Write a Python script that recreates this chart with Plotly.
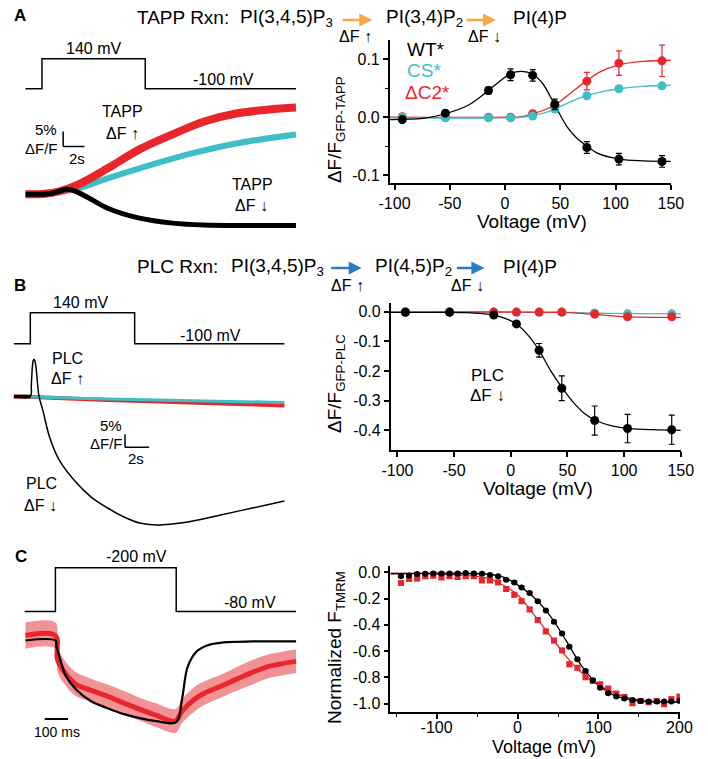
import plotly.graph_objects as go

W, H = 708, 759
FONT = "Liberation Sans, Arial, Helvetica, sans-serif"
BLACK = "#000000"
CYAN = "#3DBFC5"
RED = "#E8262B"
ORANGE = "#F7A83F"
BLUE = "#2B7BC0"

# ---------------- data ----------------
# Panel A example traces: time (s), dF/F (%)
a_wt_t = [0, 2.27, 3.18, 3.82, 4.55, 5.91, 7.73, 10.73, 13.82, 16.82, 21.36, 25.45]
a_wt_f = [0, 0.17, 1.0, 1.67, 1.17, -1.17, -4.67, -8.0, -9.67, -10.33, -10.5, -10.5]
a_cs_t = [0, 1.82, 3.18, 5.0, 7.73, 10.73, 15.27, 19.82, 25.45]
a_cs_f = [0, 0, 0.67, 2.0, 5.33, 8.67, 13.33, 17.0, 20.0]
a_dc2_t = [0, 1.82, 3.18, 5.0, 7.73, 10.73, 13.82, 16.82, 19.82, 22.91, 25.45]
a_dc2_f = [0, 0.17, 1.0, 3.33, 8.67, 15.0, 20.0, 24.33, 27.0, 28.33, 29.0]
a_prot_t = [0, 1.55, 1.55, 11.27, 11.27, 25.45]
a_prot_v = [-100, -100, 140, 140, -100, -100]

# Panel A voltage dependence (mV, dF/F)
volt_ab = [-93, -54, -15, 5, 25, 45, 74, 103, 142]
a_wt = [-0.004, 0.007, 0.046, 0.073, 0.072, 0.022, -0.052, -0.072, -0.076]
a_wt_err = [0.003, 0.003, 0.006, 0.010, 0.010, 0.009, 0.010, 0.010, 0.010]
a_cs = [0.0, -0.001, -0.001, -0.001, 0.002, 0.014, 0.037, 0.049, 0.054]
a_cs_err = [0.002, 0.002, 0.002, 0.002, 0.002, 0.003, 0.004, 0.005, 0.005]
a_dc2 = [0.001, 0.0, 0.0, 0.0, 0.006, 0.020, 0.062, 0.093, 0.097]
a_dc2_err = [0.003, 0.002, 0.002, 0.002, 0.002, 0.004, 0.015, 0.021, 0.027]
# fitted curves
a_wt_fit_v = [-104, -74, -54, -33, -15, -4, 5, 15, 25, 34, 45, 56, 65, 73, 84, 104, 125, 150]
a_wt_fit = [-0.004, -0.002, 0.006, 0.021, 0.046, 0.063, 0.075, 0.079, 0.074, 0.058, 0.021, -0.016, -0.036, -0.048, -0.062, -0.072, -0.075, -0.076]
a_cs_fit_v = [-104, 0, 15, 25, 35, 45, 55, 65, 74, 90, 103, 125, 150]
a_cs_fit = [-0.001, -0.001, 0.0, 0.003, 0.007, 0.014, 0.023, 0.031, 0.037, 0.045, 0.049, 0.053, 0.055]
a_dc2_fit_v = [-104, 0, 15, 25, 35, 45, 55, 65, 74, 85, 103, 125, 150]
a_dc2_fit = [0.0, 0.0, 0.001, 0.006, 0.012, 0.021, 0.035, 0.050, 0.063, 0.077, 0.090, 0.096, 0.098]

# Panel B example traces: time (s), dF/F (%)
b_wt_t = [0, 1.36, 1.44, 1.52, 1.6, 1.68, 1.8, 1.92, 2.08, 2.4, 2.96, 3.76, 5.12, 6.4, 7.76, 9.12, 10.4, 11.76, 13.12, 14.4, 17.12, 19.76, 22.4]
b_wt_f = [0, 0, 4.23, 10.77, 13.85, 14.23, 12.31, 6.92, 0, -5.38, -15.77, -24.62, -33.08, -38.85, -43.08, -46.54, -48.85, -49.62, -49.23, -48.46, -45.77, -43.08, -40.38]
b_wt_pre_t = [0, 1.36]
b_wt_pre_f = [0, 0]
b_cs_t = [0, 1.6, 7.76, 15.76, 22.4]
b_cs_f = [0, -0.19, -0.96, -1.73, -2.31]
b_dc2_t = [0, 1.6, 7.76, 15.76, 22.4]
b_dc2_f = [0, -0.19, -1.35, -2.5, -3.46]
b_prot_t = [0, 1.36, 1.36, 10.0, 10.0, 22.4]
b_prot_v = [-100, -100, 140, 140, -100, -100]

# Panel B voltage dependence
b_wt = [-0.002, -0.002, -0.011, -0.041, -0.130, -0.258, -0.367, -0.394, -0.398]
b_wt_err = [0.003, 0.003, 0.004, 0.005, 0.023, 0.042, 0.049, 0.048, 0.049]
b_cs = [0.0, 0.0, -0.001, -0.001, -0.002, -0.002, -0.004, -0.007, -0.007]
b_cs_err = [0.003] * 9
b_dc2 = [-0.001, -0.001, -0.001, -0.001, -0.001, -0.001, -0.008, -0.017, -0.017]
b_dc2_err = [0.003] * 9
b_wt_fit_v = [-106, -60, -40, -25, -15, -5, 5, 15, 25, 35, 45, 55, 65, 75, 90, 105, 125, 150]
b_wt_fit = [-0.002, -0.002, -0.003, -0.006, -0.011, -0.022, -0.041, -0.078, -0.130, -0.198, -0.255, -0.305, -0.343, -0.367, -0.386, -0.394, -0.398, -0.400]
b_cs_fit_v = [-106, 40, 60, 80, 103, 150]
b_cs_fit = [-0.001, -0.001, -0.003, -0.005, -0.006, -0.007]
b_dc2_fit_v = [-106, 40, 55, 74, 90, 103, 150]
b_dc2_fit = [-0.001, -0.002, -0.004, -0.009, -0.014, -0.017, -0.019]

# Panel C example traces: time (ms), normalized F
c_wt_t = [0, 129, 133, 146, 175, 217, 283, 354, 425, 492, 563, 650, 675, 700, 738, 783, 854, 979, 1167]
c_wt_f = [0, 0, -0.061, -0.195, -0.439, -0.598, -0.744, -0.829, -0.902, -0.951, -0.988, -1.0, -0.72, -0.317, -0.134, -0.061, -0.024, -0.012, -0.012]
c_mut_t = [0, 129, 138, 175, 217, 283, 354, 425, 492, 563, 646, 675, 729, 771, 842, 908, 979, 1050, 1167]
c_mut_f = [0.06, 0.06, -0.232, -0.415, -0.537, -0.61, -0.683, -0.768, -0.841, -0.915, -0.988, -0.866, -0.72, -0.646, -0.561, -0.476, -0.39, -0.317, -0.256]
c_mut_hi = [0.22, 0.22, -0.08, -0.27, -0.39, -0.47, -0.54, -0.62, -0.70, -0.77, -0.84, -0.72, -0.57, -0.50, -0.42, -0.33, -0.24, -0.17, -0.11]
c_mut_lo = [-0.10, -0.10, -0.38, -0.56, -0.68, -0.75, -0.83, -0.91, -0.98, -1.06, -1.13, -1.01, -0.87, -0.79, -0.70, -0.62, -0.54, -0.46, -0.40]
c_prot_t = [-4, 129, 129, 650, 650, 1167]
c_prot_v = [-80, -80, -200, -200, -80, -80]

# Panel C voltage dependence (normalized F_TMRM)
volt_c = [-144, -134, -124, -114, -104, -94, -84, -74, -64, -54, -44, -34, -24, -14, -4, 5, 15, 25,
          35, 45, 55, 64, 74, 84, 93, 102, 112, 122, 132, 142, 152, 162, 172, 181, 190, 200]
c_wt = [-0.030, -0.023, -0.012, -0.010, -0.008, -0.008, -0.008, -0.008, -0.005, -0.008, -0.010, -0.020,
        -0.030, -0.055, -0.076, -0.114, -0.157, -0.220, -0.291, -0.377, -0.466, -0.567, -0.663, -0.752,
        -0.823, -0.879, -0.922, -0.947, -0.962, -0.973, -0.980, -0.985, -0.985, -0.985, -0.985, -0.980]
c_mut = [-0.081, -0.050, -0.047, -0.030, -0.025, -0.038, -0.030, -0.035, -0.030, -0.030, -0.061, -0.061,
         -0.076, -0.127, -0.170, -0.220, -0.282, -0.362, -0.450, -0.520, -0.595, -0.701, -0.727, -0.800,
         -0.828, -0.853, -0.886, -0.924, -0.950, -0.998, -0.980, -0.990, -0.980, -1.005, -0.967, -0.947]
c_wt_err = [0.008] * 36
c_mut_err = [0.015] * 36
c_wt_fit_v = [-157, -50, -20, 0, 20, 40, 60, 80, 100, 120, 140, 160, 200]
c_wt_fit = [-0.010, -0.010, -0.030, -0.095, -0.190, -0.330, -0.520, -0.720, -0.860, -0.940, -0.970, -0.985, -0.990]
c_mut_fit_v = [-157, -100, -60, -40, -20, 0, 20, 40, 60, 80, 100, 120, 140, 160, 200]
c_mut_fit = [-0.005, -0.012, -0.025, -0.040, -0.090, -0.170, -0.320, -0.480, -0.640, -0.770, -0.860, -0.920, -0.960, -0.980, -0.990]


# ---------------- layout helpers (pixel geometry) ----------------
def xdom(x0, x1):
    return [x0 / W, x1 / W]


def ydom(top, bottom):
    return [1 - bottom / H, 1 - top / H]


def lin(p, p0, v0, p1, v1):
    return v0 + (p - p0) * (v1 - v0) / (p1 - p0)


def PX(x):
    return x / W


def PY(y):
    return 1 - y / H


fig = go.Figure()


def line_tr(x, y, color, width, xa, ya, shape="spline"):
    fig.add_trace(go.Scatter(x=x, y=y, mode="lines", xaxis=xa, yaxis=ya,
                             line=dict(color=color, width=width, shape=shape),
                             hoverinfo="skip"))


def pts_tr(x, y, err, color, size, xa, ya, symbol="circle"):
    fig.add_trace(go.Scatter(x=x, y=y, mode="markers", xaxis=xa, yaxis=ya,
                             marker=dict(color=color, size=size, symbol=symbol),
                             error_y=dict(type="data", array=err, color=color,
                                          thickness=1.2, width=3)))


# ---- Panel A traces ----
line_tr(a_prot_t, a_prot_v, BLACK, 1.5, "x", "y2", shape="linear")
line_tr(a_cs_t, a_cs_f, CYAN, 6, "x", "y")
line_tr(a_dc2_t, a_dc2_f, RED, 8, "x", "y")
line_tr(a_wt_t, a_wt_f, BLACK, 5, "x", "y")

# ---- Panel A plot ----
line_tr(a_dc2_fit_v, a_dc2_fit, RED, 1.3, "x2", "y3")
line_tr(a_cs_fit_v, a_cs_fit, CYAN, 1.3, "x2", "y3")
line_tr(a_wt_fit_v, a_wt_fit, BLACK, 1.3, "x2", "y3")
pts_tr(volt_ab, a_dc2, a_dc2_err, RED, 9, "x2", "y3")
pts_tr(volt_ab, a_cs, a_cs_err, CYAN, 9, "x2", "y3")
pts_tr(volt_ab, a_wt, a_wt_err, BLACK, 9, "x2", "y3")

# ---- Panel B traces ----
line_tr(b_prot_t, b_prot_v, BLACK, 1.5, "x3", "y5", shape="linear")
line_tr(b_dc2_t, b_dc2_f, RED, 4, "x3", "y4")
line_tr(b_cs_t, b_cs_f, CYAN, 3, "x3", "y4")
line_tr(b_wt_pre_t, b_wt_pre_f, BLACK, 3.5, "x3", "y4", shape="linear")
line_tr(b_wt_t, b_wt_f, BLACK, 1.5, "x3", "y4")

# ---- Panel B plot ----
line_tr(b_cs_fit_v, b_cs_fit, CYAN, 1.3, "x4", "y6")
line_tr(b_dc2_fit_v, b_dc2_fit, RED, 1.3, "x4", "y6")
line_tr(b_wt_fit_v, b_wt_fit, BLACK, 1.3, "x4", "y6")
pts_tr(volt_ab, b_cs, b_cs_err, CYAN, 9, "x4", "y6")
pts_tr(volt_ab, b_dc2, b_dc2_err, RED, 9, "x4", "y6")
pts_tr(volt_ab, b_wt, b_wt_err, BLACK, 9, "x4", "y6")

# ---- Panel C traces ----
line_tr(c_prot_t, c_prot_v, BLACK, 1.5, "x5", "y8", shape="linear")
fig.add_trace(go.Scatter(x=c_mut_t, y=c_mut_hi, mode="lines", xaxis="x5", yaxis="y7",
                         line=dict(width=0, shape="spline"), hoverinfo="skip"))
fig.add_trace(go.Scatter(x=c_mut_t, y=c_mut_lo, mode="lines", xaxis="x5", yaxis="y7",
                         line=dict(width=0, shape="spline"), fill="tonexty",
                         fillcolor="rgba(232,38,43,0.50)", hoverinfo="skip"))
line_tr(c_mut_t, c_mut_f, RED, 5, "x5", "y7")
line_tr(c_wt_t, c_wt_f, BLACK, 2.2, "x5", "y7")

# ---- Panel C plot ----
line_tr(c_mut_fit_v, c_mut_fit, RED, 1.3, "x6", "y9")
line_tr(c_wt_fit_v, c_wt_fit, BLACK, 1.3, "x6", "y9")
pts_tr(volt_c, c_mut, c_mut_err, RED, 6, "x6", "y9", symbol="square")
pts_tr(volt_c, c_wt, c_wt_err, BLACK, 6, "x6", "y9")


# ---------------- axes ----------------
def hidden(domain, rng, anchor=None):
    d = dict(visible=False, domain=domain, range=rng, fixedrange=True)
    if anchor:
        d["anchor"] = anchor
    return d


def shown(domain, rng, tickvals, ticktext, anchor, minor=None, standoff=0):
    d = dict(domain=domain, range=rng, tickvals=tickvals, ticktext=ticktext,
             anchor=anchor, showline=True, linecolor="black", linewidth=1.5,
             ticks="outside", ticklen=5, tickwidth=1.5, tickcolor="black",
             showgrid=False, zeroline=False, fixedrange=True,
             ticklabelstandoff=standoff,
             tickfont=dict(size=16, color="black", family=FONT))
    if minor:
        d["minor"] = dict(tickvals=minor, ticks="outside", ticklen=3,
                          tickwidth=1.2, tickcolor="black", showgrid=False)
    return d


# Panel A traces: 11 px / s, 3 px / %, 8 mV / px
ax_a_t = hidden(xdom(0, 340), [lin(0, 15, 0, 26, 1), lin(340, 15, 0, 26, 1)], "y")
ay_a_f = hidden(ydom(95, 240), [lin(240, 193, 0, 190, 1), lin(95, 193, 0, 190, 1)], "x")
ay_a_v = hidden(ydom(38, 95), [lin(95, 87, -100, 57, 140), lin(38, 87, -100, 57, 140)], "x")

# Panel A plot
ax_a_p = shown(xdom(392, 683), [lin(392, 397, -100, 683, 150), 150],
               [-100, -50, 0, 50, 100, 150], ["-100", "-50", "0", "50", "100", "150"], "y3")
ay_a_p = shown(ydom(38, 182), [lin(182, 115.7, 0, 57.3, 0.1), lin(38, 115.7, 0, 57.3, 0.1)],
               [-0.1, 0, 0.1], ["-0.1", "0.0", "0.1"], "x2", minor=[-0.05, 0.05])

# Panel B traces: 12.5 px / s, 2.6 px / %
ax_b_t = hidden(xdom(0, 340), [lin(0, 3, 0, 15.5, 1), lin(340, 3, 0, 15.5, 1)], "y4")
ay_b_f = hidden(ydom(350, 545), [lin(545, 396, 0, 393.4, 1), lin(350, 396, 0, 393.4, 1)], "x3")
ay_b_v = hidden(ydom(296, 350), [lin(350, 343, -100, 312, 140), lin(296, 343, -100, 312, 140)], "x3")

# Panel B plot
ax_b_p = shown(xdom(393, 693.3), [lin(393, 400, -100, 693.3, 150), 150],
               [-100, -50, 0, 50, 100, 150], ["-100", "-50", "0", "50", "100", "150"], "y6")
ay_b_p = shown(ydom(302, 450), [lin(450, 311, 0, 430, -0.4), lin(302, 311, 0, 430, -0.4)],
               [-0.4, -0.3, -0.2, -0.1, 0], ["-0.4", "-0.3", "-0.2", "-0.1", "0.0"], "x4")

# Panel C traces: 0.24 px / ms
ax_c_t = hidden(xdom(0, 340), [lin(0, 15, 0, 39, 100), lin(340, 15, 0, 39, 100)], "y7")
ay_c_f = hidden(ydom(615, 745), [lin(745, 641, 0, 723, -1), lin(615, 641, 0, 723, -1)], "x5")
ay_c_v = hidden(ydom(556, 615), [lin(615, 612, -80, 568, -200), lin(556, 612, -80, 568, -200)], "x5")

# Panel C plot
ax_c_p = shown(xdom(392.7, 692.3), [lin(392.7, 524.3, 0, 608.1, 100), lin(692.3, 524.3, 0, 608.1, 100)],
               [-100, 0, 100, 200], ["-100", "0", "100", "200"], "y9", minor=[-150, -50, 50, 150],
               standoff=-5)
ay_c_p = shown(ydom(566, 712.7), [lin(712.7, 572.7, 0, 704.3, -1), lin(566, 572.7, 0, 704.3, -1)],
               [-1.0, -0.8, -0.6, -0.4, -0.2, 0.0], ["-1.0", "-0.8", "-0.6", "-0.4", "-0.2", "0.0"], "x6")

fig.update_layout(
    width=W, height=H, margin=dict(l=0, r=0, t=0, b=0),
    paper_bgcolor="white", plot_bgcolor="white", showlegend=False,
    font=dict(family=FONT, color="black"),
    xaxis=ax_a_t, yaxis=ay_a_f, yaxis2=ay_a_v,
    xaxis2=ax_a_p, yaxis3=ay_a_p,
    xaxis3=ax_b_t, yaxis4=ay_b_f, yaxis5=ay_b_v,
    xaxis4=ax_b_p, yaxis6=ay_b_p,
    xaxis5=ax_c_t, yaxis7=ay_c_f, yaxis8=ay_c_v,
    xaxis6=ax_c_p, yaxis9=ay_c_p,
)

# ---------------- scale bars ----------------
def seg(x0, y0, x1, y1, xr, yr, w=1.5):
    fig.add_shape(type="line", x0=x0, y0=y0, x1=x1, y1=y1, xref=xr, yref=yr,
                  line=dict(color="black", width=w))


seg(3.545, 16, 3.545, 21, "x", "y")
seg(3.545, 16, 5.545, 16, "x", "y")
seg(9.2, -19.6, 9.2, -14.6, "x3", "y4")
seg(9.2, -19.6, 11.2, -19.6, "x3", "y4")
seg(83, -0.963, 183, -0.963, "x5", "y7", w=2)

# ---------------- text ----------------
def txt(x, y, s, size=16, color="black", xanchor="center", bold=False, angle=0):
    if bold:
        s = "<b>" + s + "</b>"
    fig.add_annotation(x=PX(x), y=PY(y), xref="paper", yref="paper", text=s,
                       showarrow=False, xanchor=xanchor, yanchor="middle",
                       textangle=angle, font=dict(size=size, color=color, family=FONT))


def arrow(x0, x1, y, color):
    fig.add_annotation(x=PX(x1), y=PY(y), xref="paper", yref="paper", text="",
                       showarrow=True, ax=x0 - x1, ay=0, axref="pixel", ayref="pixel",
                       arrowhead=2, arrowsize=1.0, arrowwidth=2.6, arrowcolor=color,
                       standoff=0, startstandoff=0)


# headers
txt(9, 14, "A", 17, bold=True)
txt(128, 16, "TAPP Rxn:", 19, xanchor="left")
txt(235, 16, "PI(3,4,5)P<sub>3</sub>", 19, xanchor="left")
arrow(343, 374, 18, ORANGE)
txt(357, 35, "ΔF ↑", 16)
txt(386, 16, "PI(3,4)P<sub>2</sub>", 19, xanchor="left")
arrow(471, 502, 18, ORANGE)
txt(490, 35, "ΔF ↓", 16)
txt(518, 16, "PI(4)P", 19, xanchor="left")

txt(9, 285, "B", 17, bold=True)
txt(128, 266, "PLC Rxn:", 19, xanchor="left")
txt(226, 266, "PI(3,4,5)P<sub>3</sub>", 19, xanchor="left")
arrow(331, 363, 267, BLUE)
txt(348, 285, "ΔF ↑", 16)
txt(375, 266, "PI(4,5)P<sub>2</sub>", 19, xanchor="left")
arrow(461, 490, 267, BLUE)
txt(472, 285, "ΔF ↓", 16)
txt(507, 266, "PI(4)P", 19, xanchor="left")

txt(10, 557, "C", 17, bold=True)

# panel A left labels
txt(85, 47, "140 mV", 16)
txt(220, 78, "-100 mV", 16)
txt(115, 110, "TAPP", 16)
txt(115, 132, "ΔF ↑", 16)
txt(36, 128, "5%", 15)
txt(32, 147, "ΔF/F", 15)
txt(68, 157, "2s", 15)
txt(250, 183, "TAPP", 16)
txt(249, 204, "ΔF ↓", 16)

# panel B left labels
txt(72, 302, "140 mV", 16)
txt(207, 335, "-100 mV", 16)
txt(58, 358, "PLC", 16)
txt(58, 378, "ΔF ↑", 16)
txt(104, 425, "5%", 15)
txt(99, 443, "ΔF/F", 15)
txt(129, 458, "2s", 15)
txt(32, 483, "PLC", 16)
txt(31, 505, "ΔF ↓", 16)

# panel C left labels
txt(130, 557, "-200 mV", 16)
txt(247, 603, "-80 mV", 16)
txt(48, 733, "100 ms", 14)

# plot labels
txt(408, 48, "WT*", 19, BLACK, xanchor="left")
txt(408, 69, "CS*", 19, CYAN, xanchor="left")
txt(406, 91, "ΔC2*", 19, RED, xanchor="left")
txt(493, 375, "PLC", 17)
txt(493, 395, "ΔF ↓", 17)

# axis titles
txt(539, 220, "Voltage (mV)", 19)
txt(546, 488, "Voltage (mV)", 19)
txt(552, 748, "Voltage (mV)", 18)
txt(337, 128, "ΔF/F<sub>GFP-TAPP</sub>", 19, angle=-90)
txt(337, 383, "ΔF/F<sub>GFP-PLC</sub>", 19, angle=-90)
txt(337, 648, "Normalized F<sub>TMRM</sub>", 19, angle=-90)

# remove the browser's default 8px page margin so the figure sits at the window origin
fig.write_html("out.html", config={"displayModeBar": False},
               post_script="document.body.style.margin='0px';document.body.style.overflow='hidden';")
